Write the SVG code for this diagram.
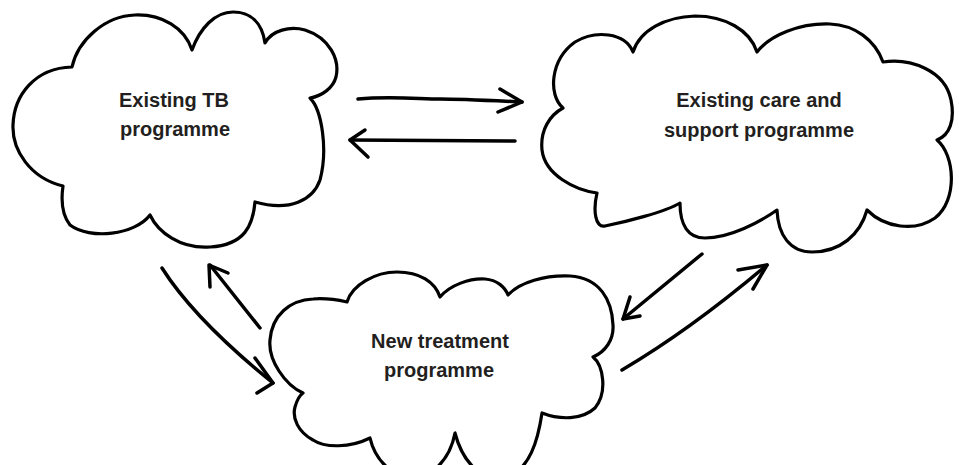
<svg xmlns="http://www.w3.org/2000/svg" width="959" height="465" viewBox="0 0 959 465">
<style>
.cloud{fill:#fff;stroke:#000;stroke-width:3.2;stroke-linejoin:round;stroke-linecap:round}
.lbl{font-family:"Liberation Sans",Arial,sans-serif;font-weight:bold;font-size:20px;fill:#231f20;text-anchor:middle}
.arr{fill:none;stroke:#000;stroke-width:3.5;stroke-linecap:round;stroke-linejoin:round}
</style>
<rect width="959" height="465" fill="#fff"/>
<g id="connectors">
<path class="arr" d="M358,99 C390,96 420,99 440,99 S500,101 522,102"/>
<path class="arr" d="M500,89 L522,102 L498,112"/>
<path class="arr" d="M515,141 L350,140"/>
<path class="arr" d="M365,130 L350,140 L368,157"/>
<path class="arr" d="M162,268 Q195,320 273,383"/>
<path class="arr" d="M255,358 L273,383 L257,393"/>
<path class="arr" d="M260,328 L210,265"/>
<path class="arr" d="M210,287 L209,265 L228,273"/>
<path class="arr" d="M702,254 L623,319"/>
<path class="arr" d="M630,297 L623,319 L640,316"/>
<path class="arr" d="M622,370 Q690,330 767,265"/>
<path class="arr" d="M738,270 L767,265 L753,289"/>
</g>
<g id="tb">
<path class="cloud" d="M72,67 C78,40 105,16 135,15 C162,14 185,28 192,50 C200,28 215,12 233,12 C250,12 262,22 265,43 C272,30 290,26 305,30 C330,38 340,60 336,77 C333,88 322,96 310,98 C322,110 328,150 320,180 C313,200 290,212 255,202 C253,225 245,245 210,247 C180,249 158,232 150,215 C135,235 90,240 70,225 C62,215 61,200 63,186 C30,178 12,150 13,125 C14,95 35,68 72,67 Z"/>
<text class="lbl" x="174" y="107">Existing TB</text>
<text class="lbl" x="175" y="136">programme</text>
</g>
<g id="care">
<path class="cloud" d="M563,108 C548,95 550,60 575,42 C595,30 625,32 633,52 C640,30 665,17 695,16 C725,16 750,30 757,52 C770,35 800,23 830,24 C855,25 875,40 883,62 C910,58 945,70 951,100 C955,120 950,135 937,140 C955,155 958,200 935,218 C915,232 885,228 867,210 C860,235 840,252 812,252 C790,252 778,235 777,210 C760,222 730,238 705,238 C688,238 680,225 680,203 C665,212 625,222 605,226 C595,228 593,210 597,193 C575,190 545,175 542,150 C540,130 550,115 563,108 Z"/>
<text class="lbl" x="759" y="107">Existing care and</text>
<text class="lbl" x="759" y="137">support programme</text>
</g>
<g id="new">
<path class="cloud" d="M303,393 C285,385 268,360 270,340 C272,315 290,300 313,299 C325,298 338,300 347,302 C352,285 375,272 397,272 C420,272 435,282 440,297 C450,285 470,278 485,279 C497,280 505,287 508,295 C520,282 545,275 570,276 C600,278 612,300 613,325 C614,340 605,352 593,357 C603,365 608,392 595,408 C582,420 560,420 542,413 C538,440 530,470 505,478 C480,482 462,460 455,433 C450,460 430,480 410,478 C392,476 375,460 370,438 C350,448 325,448 313,440 C298,432 292,418 295,407 C297,400 300,395 303,393 Z"/>
<text class="lbl" x="440" y="348">New treatment</text>
<text class="lbl" x="439" y="377">programme</text>
</g>
</svg>
